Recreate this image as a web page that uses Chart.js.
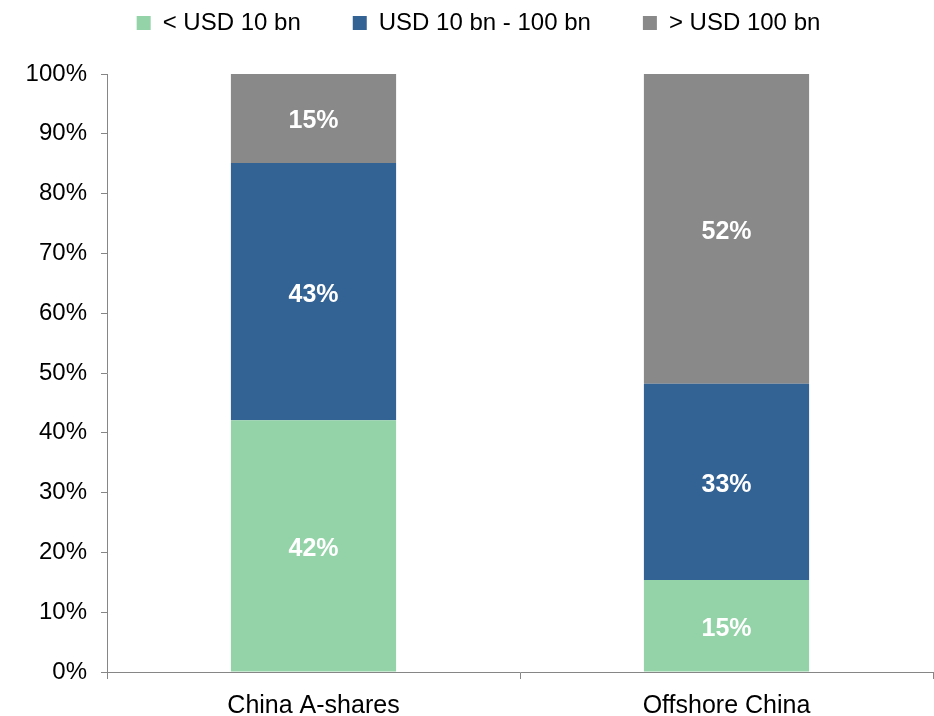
<!DOCTYPE html>
<html>
<head>
<meta charset="utf-8">
<script src="https://cdn.jsdelivr.net/npm/chart.js@4.4.1/dist/chart.umd.min.js"></script>
<style>
  html, body { margin: 0; padding: 0; background: #fff; }
  #wrap { position: relative; width: 934px; height: 716px; }
</style>
</head>
<body>
<div id="wrap"><canvas id="chart"></canvas></div>
<script>
const categories = ["China A-shares", "Offshore China"];
const seriesNames = ["< USD 10 bn", "USD 10 bn - 100 bn", "> USD 100 bn"];
const smallCap = [42.1, 15.4];
const midCap = [43.0, 32.8];
const largeCap = [14.9, 51.8];
const yTicks = [0, 10, 20, 30, 40, 50, 60, 70, 80, 90, 100];

const colors = ["#94d3a8", "#336295", "#898989"];
const axisColor = "#868686";
const font = "'Liberation Sans', Arial, sans-serif";

// white value labels in the middle of each segment
const segmentLabels = {
  id: "segmentLabels",
  afterDatasetsDraw(chart) {
    const ctx = chart.ctx;
    ctx.save();
    ctx.fillStyle = "#fff";
    ctx.font = "bold 25px " + font;
    ctx.textAlign = "center";
    ctx.textBaseline = "middle";
    chart.data.datasets.forEach((ds, i) => {
      chart.getDatasetMeta(i).data.forEach((bar, j) => {
        const p = bar.getProps(["x", "y", "base"], true);
        ctx.fillText(Math.round(ds.data[j]) + "%", p.x, (p.y + p.base) / 2 + 3);
      });
    });
    ctx.restore();
  }
};

// legend sits near the top, plot starts below it
const legendPlace = {
  id: "legendPlace",
  beforeInit(chart) {
    const lg = chart.legend;
    const fit = lg.fit;
    lg.fit = function () {
      fit.call(this);
      this.height = 74;
    };
    const draw = lg.draw;
    lg.draw = function () {
      const c = this.ctx;
      c.save();
      c.translate(12, -41);
      draw.call(this);
      c.restore();
    };
  }
};

new Chart(document.getElementById("chart"), {
  type: "bar",
  data: {
    labels: categories,
    datasets: [
      { label: seriesNames[0], data: smallCap, backgroundColor: colors[0] },
      { label: seriesNames[1], data: midCap, backgroundColor: colors[1] },
      { label: seriesNames[2], data: largeCap, backgroundColor: colors[2] }
    ]
  },
  options: {
    responsive: true,
    maintainAspectRatio: false,
    animation: false,
    categoryPercentage: 1,
    barPercentage: 0.4,
    layout: { padding: { top: 0, left: 0, right: 1, bottom: 0 } },
    plugins: {
      tooltip: { enabled: false },
      legend: {
        position: "top",
        labels: {
          font: { family: font, size: 24 },
          color: "#000",
          boxWidth: 14,
          boxHeight: 14,
          padding: 52
        }
      }
    },
    scales: {
      x: {
        stacked: true,
        offset: true,
        grid: { offset: true, drawOnChartArea: false, tickLength: 7, color: axisColor },
        border: { color: axisColor },
        ticks: { font: { family: font, size: 25 }, color: "#000", padding: 12 },
        afterFit(scale) { scale.height = 44; }
      },
      y: {
        stacked: true,
        min: 0,
        max: 100,
        afterBuildTicks(scale) { scale.ticks = yTicks.map(v => ({ value: v })); },
        grid: { drawOnChartArea: false, tickLength: 6, color: axisColor },
        border: { color: axisColor },
        ticks: {
          font: { family: font, size: 24 },
          color: "#000",
          padding: 14,
          callback: v => v + "%"
        },
        afterFit(scale) { scale.width = 107; }
      }
    }
  },
  plugins: [segmentLabels, legendPlace]
});
</script>
</body>
</html>
